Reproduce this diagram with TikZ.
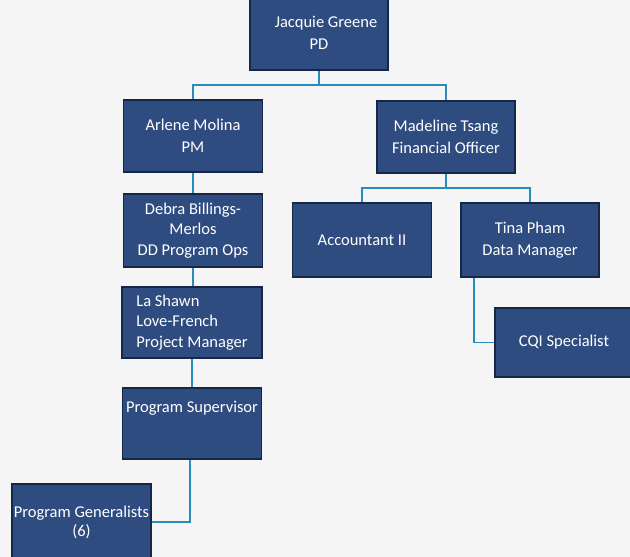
\documentclass[tikz,border=0pt]{standalone}
\usepackage{fontspec}
\setmainfont{Carlito}
\definecolor{boxblue}{RGB}{47,76,128}
\definecolor{boxedge}{RGB}{22,38,70}
\definecolor{linkblue}{RGB}{40,140,190}
\definecolor{paper}{RGB}{245,245,245}
\tikzset{
  orgbox/.style={draw=boxedge, line width=1.2pt, fill=boxblue, text=white,
    align=center, inner sep=1pt, font=\fontsize{16.5}{22}\selectfont},
  link/.style={draw=linkblue, line width=1.6pt}
}
\begin{document}
\begin{tikzpicture}[x=1pt,y=-1pt]
\fill[paper] (0,0) rectangle (630,557);
\useasboundingbox (0,0) rectangle (630,557);
\node[orgbox, minimum width=138pt, minimum height=74pt] (jg) at (319,33) {\hspace*{14pt}Jacquie Greene\\PD};
\node[orgbox, minimum width=139pt, minimum height=72pt] (am) at (193,136) {Arlene Molina\\PM};
\node[orgbox, minimum width=138pt, minimum height=72pt] (mt) at (446,137) {Madeline Tsang\\Financial Officer};
\node[orgbox, minimum width=139pt, minimum height=73pt, font=\fontsize{16.5}{20.5}\selectfont] (db) at (193,230.5) {Debra Billings-\\Merlos\\DD Program Ops};
\node[orgbox, minimum width=139pt, minimum height=74pt] (ac) at (362,240) {Accountant II};
\node[orgbox, minimum width=138pt, minimum height=74pt] (tp) at (530,240) {Tina Pham\\Data Manager};
\node[orgbox, minimum width=138pt, minimum height=69pt] (cqi) at (564,342.5) {CQI Specialist};
\node[orgbox, minimum width=140pt, minimum height=71pt, align=left, font=\fontsize{16.5}{20.5}\selectfont] (ls) at (192,322.5) {La Shawn\\Love-French\\Project Manager};
\node[orgbox, minimum width=139pt, minimum height=71pt] (ps) at (192,423.5) {Program Supervisor\\[12pt]\mbox{}};
\node[orgbox, minimum width=139pt, minimum height=76pt, inner sep=0pt, font=\fontsize{16.5}{19}\selectfont] (pg) at (81.5,522) {Program Generalists\\(6)};
% connectors
\coordinate (t1) at (319,85);
\draw[link] (jg.south) -- (t1);
\draw[link] (am.north) |- (t1) -| (mt.north);
\draw[link] (am.south) -- (db.north);
\draw[link] (db.south) -- (ls.north -| db.south);
\draw[link] (ls.south -| ps.north) -- (ps.north);
\coordinate (t2) at (446,188);
\draw[link] (mt.south) -- (t2);
\draw[link] (ac.north) |- (t2) -| (tp.north);
\draw[link] ([xshift=-56pt]tp.south) |- (cqi.west);
\draw[link] ([xshift=-2pt]ps.south) |- (pg.east);
\end{tikzpicture}
\end{document}
